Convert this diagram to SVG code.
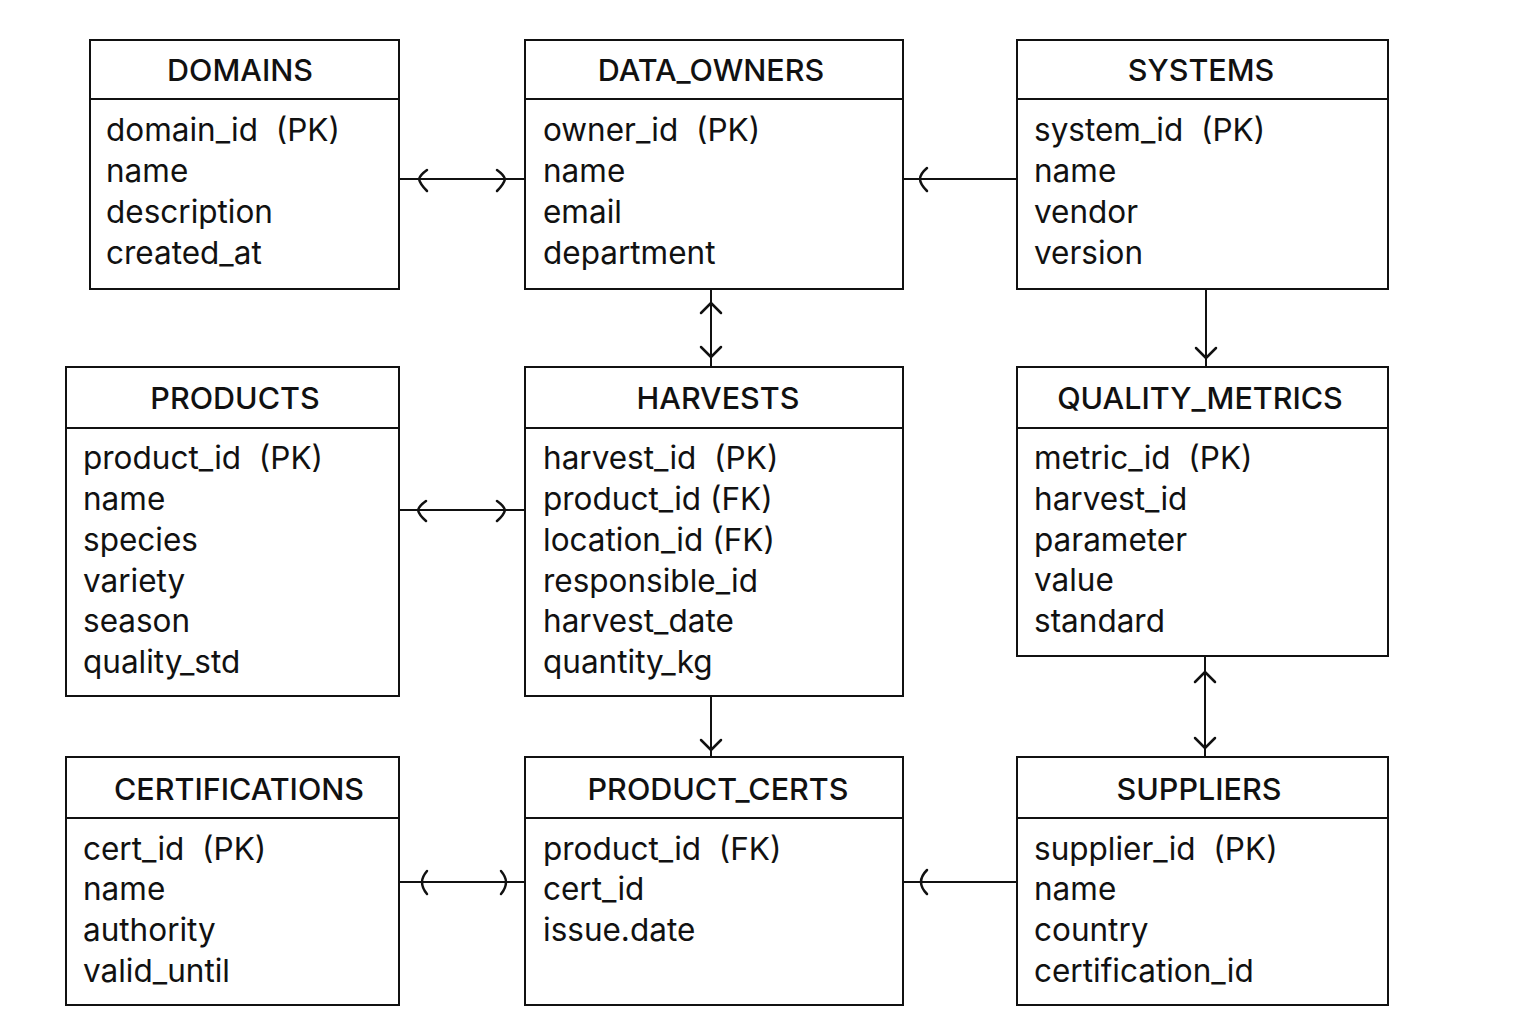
<svg xmlns="http://www.w3.org/2000/svg" width="1536" height="1024" viewBox="0 0 1536 1024">
<style>
.box{fill:#fff;stroke:#111;stroke-width:2}
.div{stroke:#111;stroke-width:2}
.t{font-family:Inter,"Liberation Sans",sans-serif;font-size:30.5px;font-weight:500;fill:#111;text-anchor:middle}
.f{font-family:Inter,"Liberation Sans",sans-serif;font-size:31.5px;fill:#111;white-space:pre}
.c{stroke:#111;stroke-width:2;fill:none}
.h{stroke:#111;stroke-width:2.5;fill:none;stroke-linecap:round;stroke-linejoin:round}
</style>
<rect width="1536" height="1024" fill="#fff"/>
<g id="connectors">
<line class="c" x1="399" y1="179" x2="525" y2="179"/>
<path class="h" d="M427 170 Q420 175 419 179 Q420 184 427 191"/>
<path class="h" d="M497 170 Q504 175 505 179 Q504 184 497 191"/>
<line class="c" x1="903" y1="179" x2="1017" y2="179"/>
<path class="h" d="M927 168 Q920 174 920 179 Q920 184 927 191"/>
<line class="c" x1="711" y1="289" x2="711" y2="367"/>
<path class="h" d="M701 313 L711 303 L721 313"/>
<path class="h" d="M701 347 L711 357 L721 347"/>
<line class="c" x1="1206" y1="289" x2="1206" y2="367"/>
<path class="h" d="M1196 348 L1206 358 L1216 348"/>
<line class="c" x1="399" y1="510" x2="525" y2="510"/>
<path class="h" d="M426 501 Q419 506 418 510 Q419 515 426 521"/>
<path class="h" d="M497 501 Q504 506 505 510 Q504 515 497 521"/>
<line class="c" x1="1205" y1="656" x2="1205" y2="757"/>
<path class="h" d="M1195 682 L1205 672 L1215 682"/>
<path class="h" d="M1195 738 L1205 748 L1215 738"/>
<line class="c" x1="711" y1="696" x2="711" y2="757"/>
<path class="h" d="M701 740 L711 750 L721 740"/>
<line class="c" x1="399" y1="882" x2="525" y2="882"/>
<path class="h" d="M427 871 Q422 877 422 882 Q422 888 427 894"/>
<path class="h" d="M501 871 Q506 877 506 882 Q506 888 501 894"/>
<line class="c" x1="903" y1="882" x2="1017" y2="882"/>
<path class="h" d="M927 870 Q921 876 921 882 Q921 888 927 894"/>
</g>
<g id="domains">
<rect class="box" x="90" y="40" width="309" height="249"/>
<line class="div" x1="90" y1="99" x2="399" y2="99"/>
<text class="t" x="240" y="81">DOMAINS</text>
<text class="f" x="106" y="141">domain_id  (PK)</text>
<text class="f" x="106" y="182">name</text>
<text class="f" x="106" y="223">description</text>
<text class="f" x="106" y="264">created_at</text>
</g>
<g id="data_owners">
<rect class="box" x="525" y="40" width="378" height="249"/>
<line class="div" x1="525" y1="99" x2="903" y2="99"/>
<text class="t" x="711" y="81">DATA_OWNERS</text>
<text class="f" x="543" y="141">owner_id  (PK)</text>
<text class="f" x="543" y="182">name</text>
<text class="f" x="543" y="223">email</text>
<text class="f" x="543" y="264">department</text>
</g>
<g id="systems">
<rect class="box" x="1017" y="40" width="371" height="249"/>
<line class="div" x1="1017" y1="99" x2="1388" y2="99"/>
<text class="t" x="1201" y="81">SYSTEMS</text>
<text class="f" x="1034" y="141">system_id  (PK)</text>
<text class="f" x="1034" y="182">name</text>
<text class="f" x="1034" y="223">vendor</text>
<text class="f" x="1034" y="264">version</text>
</g>
<g id="products">
<rect class="box" x="66" y="367" width="333" height="329"/>
<line class="div" x1="66" y1="428" x2="399" y2="428"/>
<text class="t" x="235" y="409">PRODUCTS</text>
<text class="f" x="83" y="469">product_id  (PK)</text>
<text class="f" x="83" y="510">name</text>
<text class="f" x="83" y="551">species</text>
<text class="f" x="83" y="592">variety</text>
<text class="f" x="83" y="632">season</text>
<text class="f" x="83" y="673">quality_std</text>
</g>
<g id="harvests">
<rect class="box" x="525" y="367" width="378" height="329"/>
<line class="div" x1="525" y1="428" x2="903" y2="428"/>
<text class="t" x="718" y="409">HARVESTS</text>
<text class="f" x="543" y="469">harvest_id  (PK)</text>
<text class="f" x="543" y="510">product_id (FK)</text>
<text class="f" x="543" y="551">location_id (FK)</text>
<text class="f" x="543" y="592">responsible_id</text>
<text class="f" x="543" y="632">harvest_date</text>
<text class="f" x="543" y="673">quantity_kg</text>
</g>
<g id="quality_metrics">
<rect class="box" x="1017" y="367" width="371" height="289"/>
<line class="div" x1="1017" y1="428" x2="1388" y2="428"/>
<text class="t" x="1200" y="409">QUALITY_METRICS</text>
<text class="f" x="1034" y="469">metric_id  (PK)</text>
<text class="f" x="1034" y="510">harvest_id</text>
<text class="f" x="1034" y="551">parameter</text>
<text class="f" x="1034" y="591">value</text>
<text class="f" x="1034" y="632">standard</text>
</g>
<g id="certifications">
<rect class="box" x="66" y="757" width="333" height="248"/>
<line class="div" x1="66" y1="818" x2="399" y2="818"/>
<text class="t" x="239" y="800">CERTIFICATIONS</text>
<text class="f" x="83" y="860">cert_id  (PK)</text>
<text class="f" x="83" y="900">name</text>
<text class="f" x="83" y="941">authority</text>
<text class="f" x="83" y="982">valid_until</text>
</g>
<g id="product_certs">
<rect class="box" x="525" y="757" width="378" height="248"/>
<line class="div" x1="525" y1="818" x2="903" y2="818"/>
<text class="t" x="718" y="800">PRODUCT_CERTS</text>
<text class="f" x="543" y="860">product_id  (FK)</text>
<text class="f" x="543" y="900">cert_id</text>
<text class="f" x="543" y="941">issue.date</text>
</g>
<g id="suppliers">
<rect class="box" x="1017" y="757" width="371" height="248"/>
<line class="div" x1="1017" y1="818" x2="1388" y2="818"/>
<text class="t" x="1199" y="800">SUPPLIERS</text>
<text class="f" x="1034" y="860">supplier_id  (PK)</text>
<text class="f" x="1034" y="900">name</text>
<text class="f" x="1034" y="941">country</text>
<text class="f" x="1034" y="982">certification_id</text>
</g>
</svg>
